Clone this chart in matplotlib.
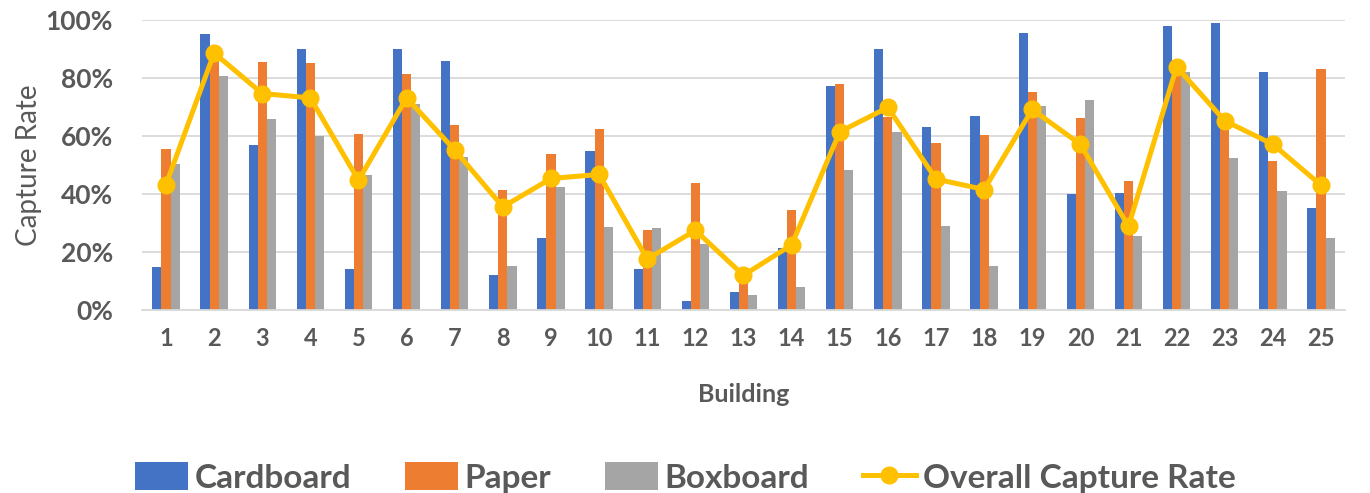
import matplotlib
matplotlib.use("Agg")
import matplotlib.pyplot as plt
import numpy as np
from matplotlib.ticker import PercentFormatter

buildings = [str(i) for i in range(1, 26)]
cardboard = [14.9, 95.4, 57.0, 90.0, 14.1, 90.2, 85.9, 12.1, 24.9, 54.8, 14.1, 3.3, 6.2,
             21.5, 77.2, 89.9, 63.0, 66.9, 95.7, 39.9, 40.3, 97.9, 98.9, 82.1, 35.3]
paper = [55.5, 88.0, 85.5, 85.4, 60.9, 81.3, 63.7, 41.4, 53.8, 62.4, 27.8, 44.0, 10.0,
         34.7, 77.9, 66.7, 57.5, 60.3, 75.3, 66.2, 44.7, 86.0, 66.0, 51.5, 83.3]
boxboard = [50.5, 80.8, 66.0, 60.1, 46.6, 71.0, 52.9, 15.3, 42.4, 28.6, 28.3, 22.9, 5.2,
            7.9, 48.2, 61.4, 29.1, 15.3, 70.3, 72.4, 25.5, 82.3, 52.6, 41.0, 24.8]
overall = [43.3, 88.7, 74.7, 73.2, 44.8, 73.2, 55.2, 35.6, 45.4, 46.8, 17.6, 27.5, 12.0,
           22.5, 61.5, 69.9, 45.2, 41.6, 69.2, 57.2, 28.9, 83.9, 65.3, 57.2, 43.1]

FONT = ["Lato", "DejaVu Sans"]
plt.rcParams['font.family'] = FONT
TXT = "#595959"

fig = plt.figure(figsize=(13.7, 4.93), dpi=100)
ax = fig.add_axes([0.1036, 0.371, 0.8782, 0.588])

x = np.arange(len(buildings))
w = 0.19
b1 = ax.bar(x - w, np.array(cardboard) / 100, w, color="#4472C4", label="Cardboard", zorder=2)
b2 = ax.bar(x, np.array(paper) / 100, w, color="#ED7D31", label="Paper", zorder=2)
b3 = ax.bar(x + w, np.array(boxboard) / 100, w, color="#A5A5A5", label="Boxboard", zorder=2)
l1, = ax.plot(x, np.array(overall) / 100, color="#FFC000", lw=3.6, marker="o", ms=12,
              label="Overall Capture Rate", zorder=3)

ax.set_xlim(-0.5, len(buildings) - 0.5)
ax.set_ylim(0, 1.0)
ax.set_yticks(np.arange(0, 1.01, 0.2))
ax.yaxis.set_major_formatter(PercentFormatter(1.0, decimals=0))
ax.set_xticks(x)
ax.set_xticklabels(buildings)
ax.grid(axis="y", color="#D9D9D9", lw=1.3, zorder=0)
ax.set_axisbelow(True)
for s in ["top", "right", "left"]:
    ax.spines[s].set_visible(False)
ax.spines["bottom"].set_color("#D9D9D9")
ax.spines["bottom"].set_linewidth(1.3)
ax.tick_params(axis="both", length=0, colors=TXT)
ax.tick_params(axis="y", pad=21)
ax.tick_params(axis="x", pad=12)
for lab in ax.get_yticklabels():
    lab.set_fontsize(19)
    lab.set_fontweight("bold")
for lab in ax.get_xticklabels():
    lab.set_fontsize(17)
    lab.set_fontweight("bold")

ax.set_xlabel("Building", fontsize=18, fontweight="bold", color=TXT, labelpad=24)
ax.set_ylabel("Capture Rate", fontsize=20, color=TXT)
ax.yaxis.set_label_coords(-0.083, 0.5)

leg = fig.legend([b1, b2, b3, l1], ["Cardboard", "Paper", "Boxboard", "Overall Capture Rate"],
                 loc="lower center", bbox_to_anchor=(0.5, -0.06), ncol=4, frameon=False,
                 prop={"family": FONT, "size": 24, "weight": "bold"},
                 handlelength=1.6, handleheight=0.9, columnspacing=1.6, handletextpad=0.2)
for t in leg.get_texts():
    t.set_color(TXT)

fig.savefig("out.png", dpi=100)
